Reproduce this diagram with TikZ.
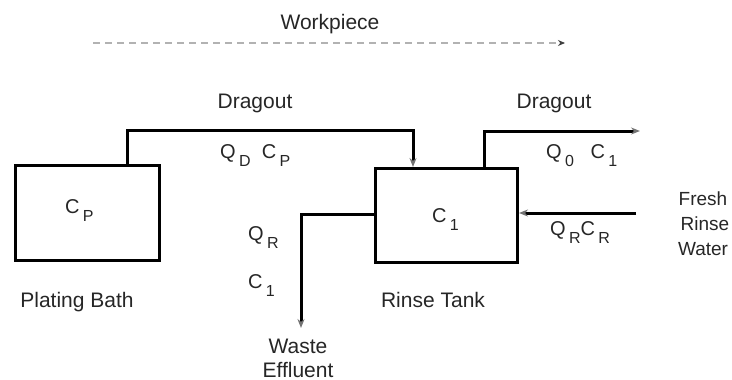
\documentclass[tikz,border=0pt]{standalone}
\usepackage{fontspec}
\setmainfont{Liberation Sans}
\usetikzlibrary{arrows.meta}
\newcommand\sbx[1]{\raisebox{-8pt}{\fontsize{16}{16}\selectfont #1}}
\begin{document}
\begin{tikzpicture}[x=1pt,y=-1pt,
  every node/.style={font=\fontsize{21}{25}\selectfont, inner sep=0pt, text=black!85},
  sym/.style={font=\fontsize{20}{24}\selectfont, anchor=base west},
  caption/.style={anchor=base},
  flow/.style={line width=3pt, -{Stealth[length=9pt,width=7pt,color=black!55]}}]
\useasboundingbox (0,0) rectangle (732,380);
% tanks
\node[draw=black, line width=3pt, minimum width=144pt, minimum height=95pt, anchor=north west] (bath) at (14,164) {};
\node[draw=black, line width=3pt, minimum width=142pt, minimum height=94pt, anchor=north west] (rinse) at (374,167) {};
% free ends
\coordinate (c1) at (127,130);
\coordinate (c2) at (413,130);
\coordinate (c3) at (484,131);
\coordinate (out) at (640,131);
\coordinate (fresh) at (636,213);
\coordinate (w1) at (301,214);
\coordinate (wend) at (301,328);
\coordinate (wp1) at (93,43);
\coordinate (wp2) at (565,43);
% connectors
\draw[flow] (bath.north west -| c1) -- (c1) -- (c2) -- (c2 |- rinse.north);
\draw[flow] (rinse.north -| c3) -- (c3) -- (out);
\draw[flow] (fresh) -- (rinse.east |- fresh);
\draw[flow] (rinse.west |- w1) -- (w1) -- (wend);
\draw[black!30, line width=1.3pt, dash pattern=on 7pt off 5pt, -{Stealth[length=7pt,width=6pt,color=black!75]}] (wp1) -- (wp2);
% labels
\node[caption] (tw) at (330,30) {Workpiece};
\node[caption] (td1) at (255,108) {Dragout};
\node[caption] (td2) at (554,108) {Dragout};
\node[sym] (tq1) at (220,158) {Q\,\sbx{D}\ \ C\,\sbx{P}};
\node[sym] (tq2) at (546,158) {Q\,\sbx{0}\ \ \ C\,\sbx{1}};
\node[sym] (tcp) at (65,213) {C\,\sbx{P}};
\node[sym] (tc1) at (432,222) {C\,\sbx{1}};
\node[sym] (tqr) at (550,235) {Q\,\sbx{R}C\,\sbx{R}};
\node[sym] (tqw) at (248,240) {Q\,\sbx{R}};
\node[sym] (tcw) at (248,288) {C\,\sbx{1}};
\node[caption] (tf1) at (703,205) {\fontsize{19}{23}\selectfont Fresh};
\node[caption] (tf2) at (705,230) {\fontsize{19}{23}\selectfont Rinse};
\node[caption] (tf3) at (703,255) {\fontsize{19}{23}\selectfont Water};
\node[caption] (tpb) at (77,307) {Plating Bath};
\node[caption] (trt) at (433,307) {Rinse Tank};
\node[caption] (twe1) at (298,353) {Waste};
\node[caption] (twe2) at (298,377) {Effluent};
\end{tikzpicture}
\end{document}
